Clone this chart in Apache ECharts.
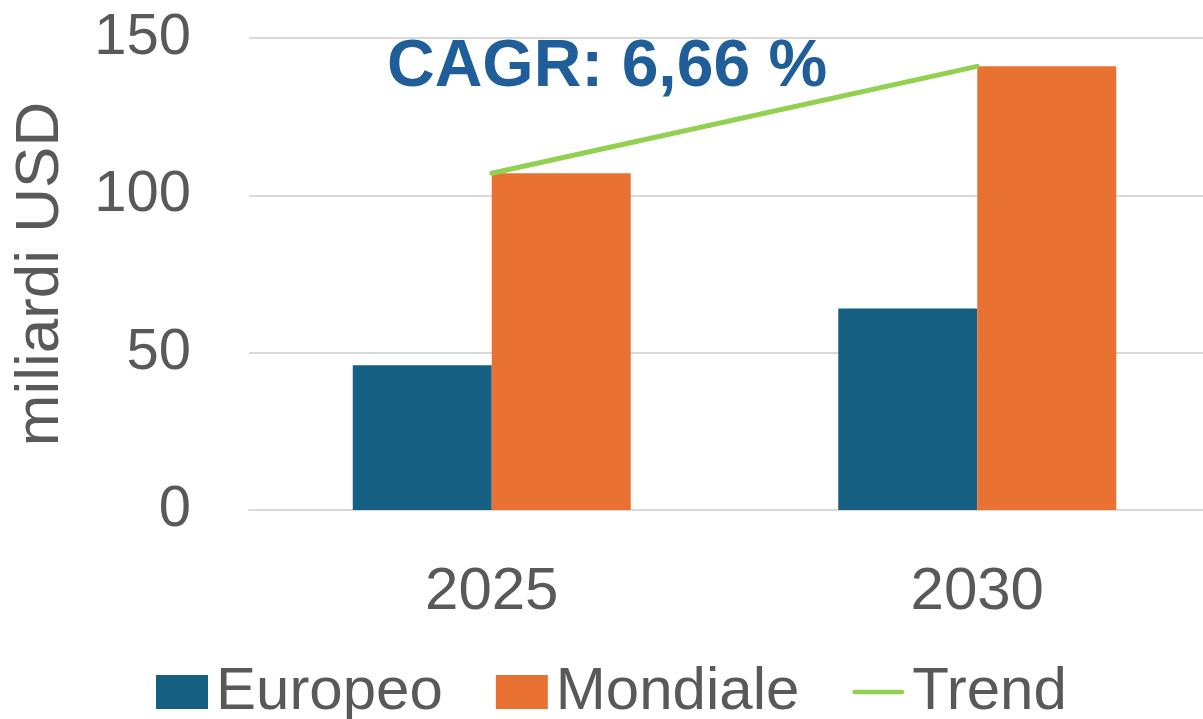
<!DOCTYPE html>
<html>
<head>
<meta charset="utf-8">
<script src="https://cdn.jsdelivr.net/npm/echarts@6/dist/echarts.min.js"></script>
<style>
  html, body { margin: 0; padding: 0; background: #fff; }
  #chart { width: 1203px; height: 719px; }
</style>
</head>
<body>
<div id="chart"></div>
<script>
  const years = ["2025", "2030"];
  const europeo = [46, 64];
  const mondiale = [107, 141];
  const trend = [107, 141];
  const yTicks = { min: 0, max: 150, step: 50 };
  const cagrText = "CAGR: 6,66 %";

  const font = "'Liberation Sans', Arial, sans-serif";
  const grey = "#595959";
  // thin rounded bar used as the legend marker of the trend line
  const lineIcon = "path://M2.5,0 L53.5,0 A2.5,2.5 0 0 1 53.5,5 L2.5,5 A2.5,2.5 0 0 1 2.5,0 Z";

  const chart = echarts.init(document.getElementById("chart"));
  chart.setOption({
    animation: false,
    textStyle: { fontFamily: font },
    grid: { left: 249, width: 971, top: 38, height: 472, outerBoundsMode: "none", containLabel: false },
    legend: {
      left: 151,
      top: 657,
      itemWidth: 52,
      itemHeight: 34,
      itemGap: 53,
      textStyle: { fontSize: 60, color: grey, fontFamily: font, padding: [0, 0, 0, 3] },
      data: [
        { name: "Europeo", icon: "rect" },
        { name: "Mondiale", icon: "rect" },
        { name: "Trend", icon: lineIcon }
      ]
    },
    xAxis: {
      type: "category",
      data: years,
      axisLine: { lineStyle: { color: "#D9D9D9", width: 2 } },
      axisTick: { show: false },
      axisLabel: { fontSize: 60, color: grey, margin: 52 }
    },
    yAxis: {
      type: "value",
      min: yTicks.min,
      max: yTicks.max,
      interval: yTicks.step,
      name: "miliardi USD",
      nameLocation: "middle",
      nameGap: 177,
      nameTextStyle: { fontSize: 62, color: grey },
      axisLine: { show: false },
      axisTick: { show: false },
      axisLabel: { fontSize: 58, color: grey, margin: 58 },
      splitLine: { lineStyle: { color: "#D9D9D9", width: 2 } }
    },
    series: [
      {
        name: "Europeo",
        type: "bar",
        data: europeo,
        barWidth: 139,
        barGap: "0%",
        itemStyle: { color: "#156082" }
      },
      {
        name: "Mondiale",
        type: "bar",
        data: mondiale,
        barWidth: 139,
        barGap: "0%",
        itemStyle: { color: "#E97132" }
      },
      {
        name: "Trend",
        type: "line",
        data: trend,
        symbol: "none",
        lineStyle: { color: "#92D050", width: 5, cap: "round" },
        itemStyle: { color: "#92D050" },
        z: 5
      }
    ],
    graphic: [
      {
        type: "text",
        left: 387,
        top: 35,
        style: {
          text: cagrText,
          font: "bold 66px " + font,
          fill: "#205E99"
        }
      }
    ]
  });
</script>
</body>
</html>
